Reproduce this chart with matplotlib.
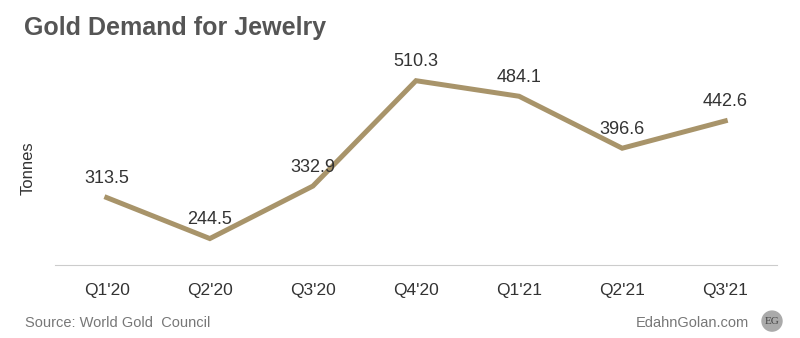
import matplotlib
matplotlib.use("Agg")
import matplotlib.pyplot as plt
from matplotlib.patches import Ellipse

quarters = ["Q1'20", "Q2'20", "Q3'20", "Q4'20", "Q1'21", "Q2'21", "Q3'21"]
tonnes = [313.5, 244.5, 332.9, 510.3, 484.1, 396.6, 442.6]

plt.rcParams['font.family'] = ['Liberation Sans', 'DejaVu Sans']

fig = plt.figure(figsize=(8, 3.38), dpi=100)
ax = fig.add_axes([0.069, 0.216, 0.902, 0.615])
x = list(range(len(quarters)))
ax.plot(x, tonnes, color='#A8946A', lw=3.6, solid_joinstyle='miter')
ax.set_xlim(-0.5, len(quarters) - 0.5)
ax.set_ylim(200, 550)
for xi, v in zip(x, tonnes):
    ax.annotate(f"{v:.1f}", (xi, v), xytext=(0, 7.5), textcoords='offset points',
                ha='center', va='bottom', fontsize=13, color='#333333')
ax.set_xticks(x)
ax.set_xticklabels(quarters, fontsize=12.5, color='#333333')
ax.tick_params(axis='x', length=0, pad=13)
ax.set_yticks([])
for s in ['top', 'right', 'left']:
    ax.spines[s].set_visible(False)
ax.spines['bottom'].set_color('#cccccc')
ax.set_ylabel('Tonnes', fontsize=12, color='#333333')
ax.yaxis.set_label_coords(-0.027, 0.466)

fig.text(0.03, 0.917, 'Gold Demand for Jewelry', fontsize=18, fontweight='bold',
         color='#555555', va='center', ha='left')
fig.text(0.031, 0.045, 'Source: World Gold  Council', fontsize=10.5, color='#777777',
         va='center', ha='left')
fig.text(0.936, 0.045, 'EdahnGolan.com', fontsize=10.5, color='#777777',
         va='center', ha='right')
c = Ellipse((0.965, 0.05), 20 / 800, 20 / 338, transform=fig.transFigure,
            color='#aaaaaa', zorder=5)
fig.patches.append(c)
fig.text(0.965, 0.05, 'EG', fontsize=8, color='#444444', ha='center', va='center',
         family='Liberation Serif', zorder=6)

fig.savefig('out.png', dpi=100)
